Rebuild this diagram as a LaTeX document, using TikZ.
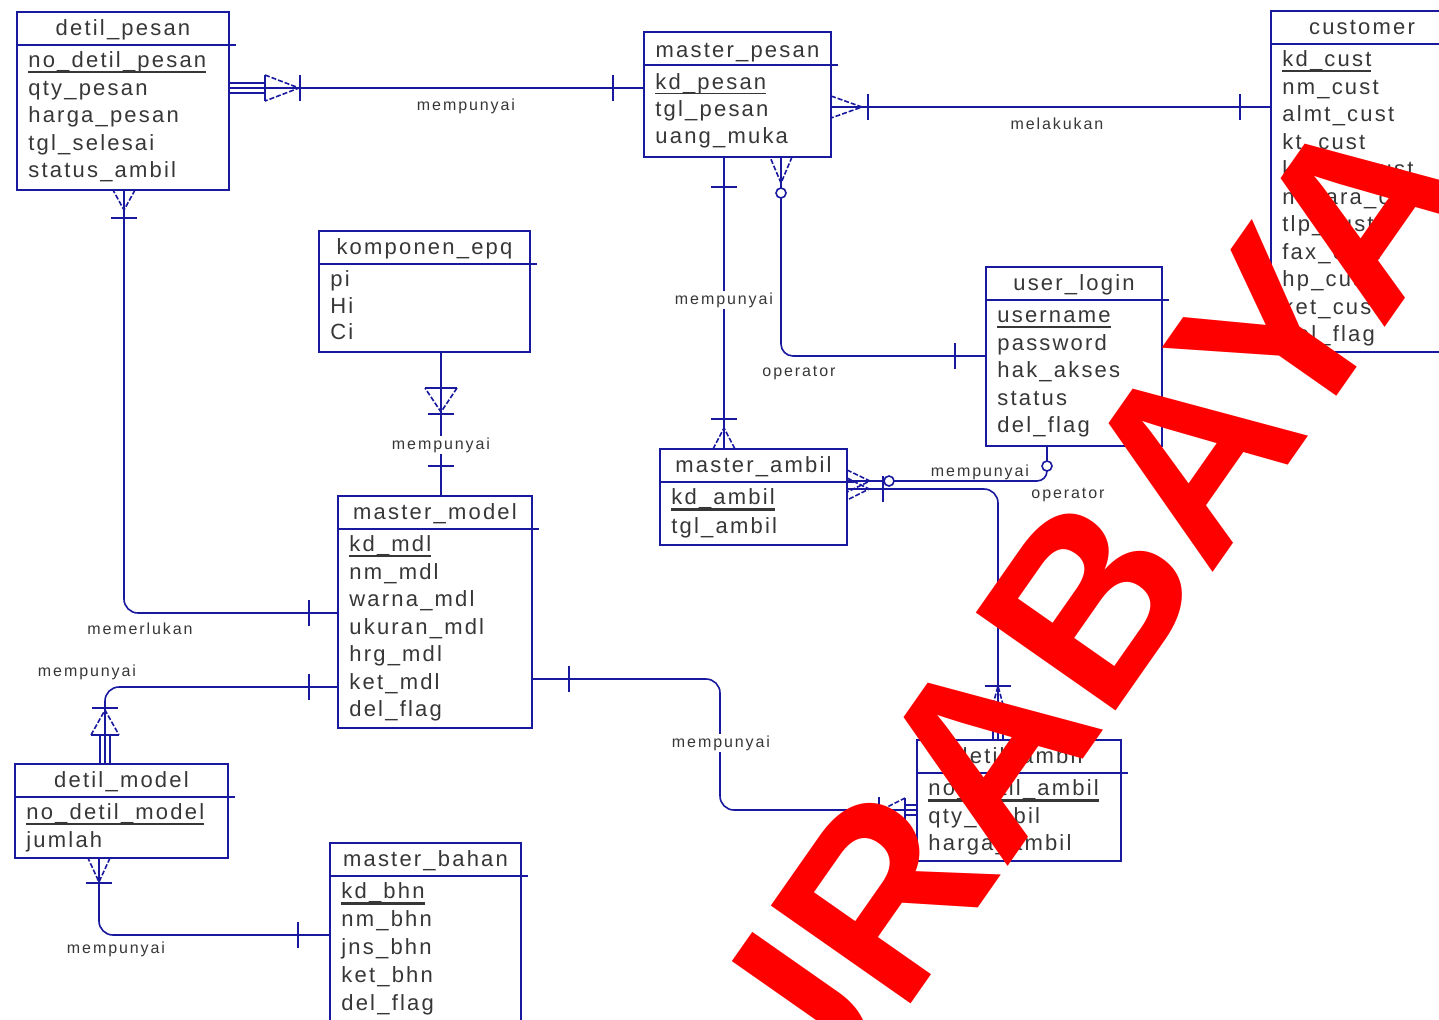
\documentclass[tikz,border=0pt]{standalone}
\usepackage{fontspec}
\setmainfont{Liberation Sans}
\newfontfamily\erfont[LetterSpace=10]{Liberation Sans}
\newfontfamily\relfont[LetterSpace=12]{Liberation Sans}
\usepackage{tikz}
\usetikzlibrary{fit}

\definecolor{erblue}{RGB}{25,25,160}
\definecolor{ertext}{RGB}{55,55,55}
\newcommand{\pk}[1]{\setbox0\hbox{#1}\rlap{\rule[-2.6pt]{\wd0}{0.8pt}}#1}
\newcommand{\pkb}[1]{\setbox0\hbox{#1}\rlap{\rule[-3.4pt]{\wd0}{1.9pt}}#1}

\begin{document}
\begin{tikzpicture}[x=0.5pt, y=-0.5pt,
    entity/.style={draw=erblue, line width=1pt, inner sep=0pt, outer sep=0pt},
    entsep/.style={draw=erblue, line width=1pt},
    enttitle/.style={font=\erfont\fontsize{11}{13}\selectfont, text=ertext, anchor=base, inner sep=0pt},
    entattr/.style={font=\erfont\fontsize{11}{13}\selectfont, text=ertext, anchor=base west, inner sep=0pt},
    rel/.style={draw=erblue, line width=0.8pt},
    prong/.style={dash pattern=on 2.5pt off 1pt},
    rellabel/.style={font=\relfont\fontsize{8}{9}\selectfont, text=ertext, inner sep=1pt},
    labelgap/.style={fill=white},
    watermark/.style={font=\bfseries\fontsize{124}{126}\selectfont, text=red, inner sep=0pt},
    pics/bar/.style={code={\draw[rel] (#1,-13) -- (#1,13);}},
    pics/crow/.style={code={\draw[rel] (0,0) -- (#1,0); \draw[rel,prong] (0,-11) -- (#1,0) -- (0,11);}},
    pics/trip/.style={code={\draw[rel] (0,-5) -- (#1,-5) (0,0) -- (#1,0) (0,5) -- (#1,5);}},
    pics/tri/.style n args={3}{code={\draw[rel] (#1,-#3) -- (#1,#3); \draw[rel,prong] (#1,-#3) -- ({#1+#2},0) -- (#1,#3);}},
    pics/ring/.style={code={\draw[rel,fill=white] (#1,0) circle [radius=5];}}
]
\useasboundingbox (0,0) rectangle (1439,1019);
\clip (0,0) rectangle (1439,1019);
\fill[white] (0,0) rectangle (1439,1019);

% Entities
\node[entity, fit={(17,12) (229,190)}] (dp) {};
\draw[entsep] ([yshift=-16.5pt]dp.north west) -- ([xshift=3.5pt,yshift=-16.5pt]dp.north east);
\node[enttitle] (dp-t) at ([yshift=-11.75pt]dp.north) {detil\_pesan};
\foreach \att [count=\i] in {\pk{no\_detil\_pesan}, qty\_pesan, harga\_pesan, tgl\_selesai, status\_ambil}
  \node[entattr] (dp-\i) at ([xshift=5.5pt, yshift=-27.75pt-13.75pt*(\i-1)]dp.north west) {\att};

\node[entity, fit={(644,32) (831,157)}] (mp) {};
\draw[entsep] ([yshift=-16.5pt]mp.north west) -- ([xshift=3.5pt,yshift=-16.5pt]mp.north east);
\node[enttitle] (mp-t) at ([yshift=-12.5pt]mp.north) {master\_pesan};
\foreach \att [count=\i] in {\pk{kd\_pesan}, tgl\_pesan, uang\_muka}
  \node[entattr] (mp-\i) at ([xshift=5.5pt, yshift=-28.5pt-13.5pt*(\i-1)]mp.north west) {\att};

\node[entity, fit={(1271,11) (1453,352)}] (cu) {};
\draw[entsep] ([yshift=-16.5pt]cu.north west) -- ([xshift=3.5pt,yshift=-16.5pt]cu.north east);
\node[enttitle] (cu-t) at ([yshift=-11.75pt]cu.north) {customer};
\foreach \att [count=\i] in {\pk{kd\_cust}, nm\_cust, almt\_cust, kt\_cust, kdpos\_cust, negara\_cust, tlp\_cust, fax\_cust, hp\_cust, ket\_cust, del\_flag}
  \node[entattr] (cu-\i) at ([xshift=5.5pt, yshift=-27.75pt-13.75pt*(\i-1)]cu.north west) {\att};

\node[entity, fit={(319,231) (530,352)}] (ke) {};
\draw[entsep] ([yshift=-16.5pt]ke.north west) -- ([xshift=3.5pt,yshift=-16.5pt]ke.north east);
\node[enttitle] (ke-t) at ([yshift=-11.75pt]ke.north) {komponen\_epq};
\foreach \att [count=\i] in {pi, Hi, Ci}
  \node[entattr] (ke-\i) at ([xshift=5.5pt, yshift=-27.75pt-13.25pt*(\i-1)]ke.north west) {\att};

\node[entity, fit={(986,267) (1162,446)}] (ul) {};
\draw[entsep] ([yshift=-16.5pt]ul.north west) -- ([xshift=3.5pt,yshift=-16.5pt]ul.north east);
\node[enttitle] (ul-t) at ([yshift=-11.75pt]ul.north) {user\_login};
\foreach \att [count=\i] in {\pk{username}, password, hak\_akses, status, del\_flag}
  \node[entattr] (ul-\i) at ([xshift=5.5pt, yshift=-27.75pt-13.75pt*(\i-1)]ul.north west) {\att};

\node[entity, fit={(660,449) (847,545)}] (ma) {};
\draw[entsep] ([yshift=-16.5pt]ma.north west) -- ([xshift=3.5pt,yshift=-16.5pt]ma.north east);
\node[enttitle] (ma-t) at ([yshift=-11.75pt]ma.north) {master\_ambil};
\foreach \att [count=\i] in {\pkb{kd\_ambil}, tgl\_ambil}
  \node[entattr] (ma-\i) at ([xshift=5.5pt, yshift=-27.75pt-14.5pt*(\i-1)]ma.north west) {\att};

\node[entity, fit={(338,496) (532,728)}] (mm) {};
\draw[entsep] ([yshift=-16.5pt]mm.north west) -- ([xshift=3.5pt,yshift=-16.5pt]mm.north east);
\node[enttitle] (mm-t) at ([yshift=-11.75pt]mm.north) {master\_model};
\foreach \att [count=\i] in {\pk{kd\_mdl}, nm\_mdl, warna\_mdl, ukuran\_mdl, hrg\_mdl, ket\_mdl, del\_flag}
  \node[entattr] (mm-\i) at ([xshift=5.5pt, yshift=-27.75pt-13.75pt*(\i-1)]mm.north west) {\att};

\node[entity, fit={(15,764) (228,858)}] (dm) {};
\draw[entsep] ([yshift=-16.5pt]dm.north west) -- ([xshift=3.5pt,yshift=-16.5pt]dm.north east);
\node[enttitle] (dm-t) at ([yshift=-11.75pt]dm.north) {detil\_model};
\foreach \att [count=\i] in {\pk{no\_detil\_model}, jumlah}
  \node[entattr] (dm-\i) at ([xshift=5.5pt, yshift=-27.75pt-13.75pt*(\i-1)]dm.north west) {\att};

\node[entity, fit={(330,843) (521,1040)}] (mb) {};
\draw[entsep] ([yshift=-16.5pt]mb.north west) -- ([xshift=3.5pt,yshift=-16.5pt]mb.north east);
\node[enttitle] (mb-t) at ([yshift=-11.75pt]mb.north) {master\_bahan};
\foreach \att [count=\i] in {\pkb{kd\_bhn}, nm\_bhn, jns\_bhn, ket\_bhn, del\_flag}
  \node[entattr] (mb-\i) at ([xshift=5.5pt, yshift=-27.75pt-14pt*(\i-1)]mb.north west) {\att};

\node[entity, fit={(917,740) (1121,861)}] (da) {};
\draw[entsep] ([yshift=-16.5pt]da.north west) -- ([xshift=3.5pt,yshift=-16.5pt]da.north east);
\node[enttitle] (da-t) at ([yshift=-11.75pt]da.north) {detil\_ambil};
\foreach \att [count=\i] in {\pkb{no\_detil\_ambil}, qty\_ambil, harga\_ambil}
  \node[entattr] (da-\i) at ([xshift=5.5pt, yshift=-27.75pt-13.75pt*(\i-1)]da.north west) {\att};

% Relations
% detil_pesan - master_pesan
\draw[rel] (dp.east |- 0,88) -- (mp.west |- 0,88);
\path (dp.east |- 0,88) pic {trip=36} pic {tri={36}{34}{13}} pic {bar=71};
\path (mp.west |- 0,88) pic[rotate=180] {bar=31};
\node[rellabel] (lb1) at (466,106) {mempunyai};

% master_pesan - customer
\draw[rel] (mp.east |- 0,107) -- (cu.west |- 0,107);
\path (mp.east |- 0,107) pic {crow=31} pic {bar=37};
\path (cu.west |- 0,107) pic[rotate=180] {bar=31};
\node[rellabel] (lb2) at (1057,124) {melakukan};

% master_pesan - master_ambil
\draw[rel] (mp.south -| 724,0) -- (ma.north -| 724,0);
\path (mp.south -| 724,0) pic[rotate=-90] {bar=30};
\path (ma.north -| 724,0) pic[rotate=90] {crow=21} pic[rotate=90] {bar=30};
\node[rellabel, labelgap] (lb3) at (724,300) {mempunyai};

% master_pesan - user_login
\draw[rel, rounded corners=6pt] (mp.south -| 781,0) -- (781,356) -- (ul.west |- 0,356);
\path (mp.south -| 781,0) pic[rotate=-90] {crow=26} pic[rotate=-90] {ring=36};
\path (ul.west |- 0,356) pic[rotate=180] {bar=31};
\node[rellabel] (lb4) at (799,373) {operator};

% user_login - master_ambil
\draw[rel, rounded corners=5pt] (ul.south -| 1047,0) -- (1047,481) -- (ma.east |- 0,481);
\path (ul.south -| 1047,0) pic[rotate=-90] {ring=20};
\path (ma.east |- 0,481) pic {crow=23} pic {ring=42};
\node[rellabel] (lb5) at (980,472) {mempunyai};
\node[rellabel] (lb6) at (1068,495) {operator};

% master_ambil - detil_ambil
\draw[rel, rounded corners=7pt] (ma.east |- 0,489) -- (998,489) -- (da.north -| 998,0);
\path (ma.east |- 0,489) pic {crow=22} pic {bar=36};
\path (da.north -| 998,0) pic[rotate=90] {trip=28} pic[rotate=90] {tri={28}{26}{7}} pic[rotate=90] {bar=54};

% master_model - detil_ambil
\draw[rel, rounded corners=7pt] (mm.east |- 0,679) -- (720,679) -- (720,810) -- (da.west |- 0,810);
\path (mm.east |- 0,679) pic {bar=37};
\path (da.west |- 0,810) pic[rotate=180] {trip=12} pic[rotate=180] {tri={12}{24}{12}} pic[rotate=180] {bar=38};
\node[rellabel, labelgap] (lb7) at (721,743) {mempunyai};

% komponen_epq - master_model
\draw[rel] (ke.south -| 441,0) -- (mm.north -| 441,0);
\path (ke.south -| 441,0) pic[rotate=-90] {tri={36}{24}{16}} pic[rotate=-90] {bar=62};
\path (mm.north -| 441,0) pic[rotate=90] {bar=30};
\node[rellabel, labelgap] (lb8) at (441,445) {mempunyai};

% detil_pesan - master_model
\draw[rel, rounded corners=7pt] (dp.south -| 124,0) -- (124,613) -- (mm.west |- 0,613);
\path (dp.south -| 124,0) pic[rotate=-90] {crow=20} pic[rotate=-90] {bar=28};
\path (mm.west |- 0,613) pic[rotate=180] {bar=29};
\node[rellabel] (lb9) at (140,629) {memerlukan};

% master_model - detil_model
\draw[rel, rounded corners=7pt] (mm.west |- 0,687) -- (105,687) -- (dm.north -| 105,0);
\path (mm.west |- 0,687) pic[rotate=180] {bar=29};
\path (dm.north -| 105,0) pic[rotate=90] {trip=29} pic[rotate=90] {tri={29}{25}{14}} pic[rotate=90] {bar=56};
\node[rellabel] (lb10) at (87,672) {mempunyai};

% detil_model - master_bahan
\draw[rel, rounded corners=7pt] (dm.south -| 99,0) -- (99,935) -- (mb.west |- 0,935);
\path (dm.south -| 99,0) pic[rotate=-90] {crow=24} pic[rotate=-90] {bar=25};
\path (mb.west |- 0,935) pic[rotate=180] {bar=32};
\node[rellabel] (lb11) at (116,949) {mempunyai};

% Watermark
\node[watermark, rotate=55] (wm) at (1024,694) {SURABAYA};

\end{tikzpicture}
\end{document}
